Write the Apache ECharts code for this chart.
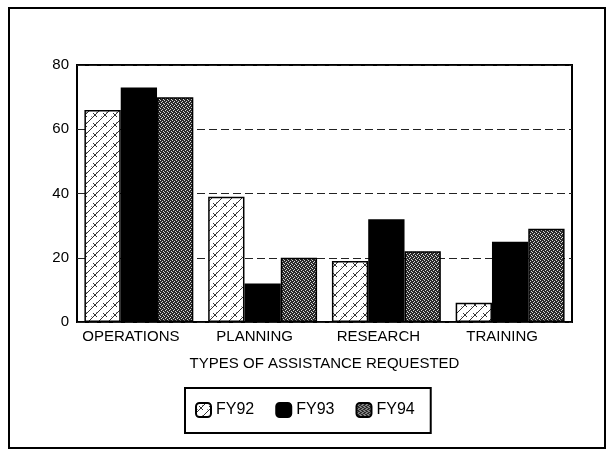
<!DOCTYPE html>
<html>
<head>
<meta charset="utf-8">
<script src="https://cdn.jsdelivr.net/npm/echarts@6/dist/echarts.min.js"></script>
<style>
  html, body { margin: 0; padding: 0; background: #fff; }
  #chart { width: 607px; height: 453px; }
</style>
</head>
<body>
<div id="chart"></div>
<script>
// 数据
var categories = ['OPERATIONS', 'PLANNING', 'RESEARCH', 'TRAINING'];
var fy92 = [66, 39, 19, 6];
var fy93 = [73, 12, 32, 25];
var fy94 = [70, 20, 22, 29];
var yTicks = [0, 20, 40, 60, 80];

// FY92 斜纹图案
function brickPattern() {
  var c = document.createElement('canvas');
  c.width = 10; c.height = 10;
  var g = c.getContext('2d');
  g.fillStyle = '#fff';
  g.fillRect(0, 0, 10, 10);
  g.strokeStyle = '#333';
  g.lineWidth = 1;
  g.beginPath();
  g.moveTo(0, 10); g.lineTo(10, 0);
  g.moveTo(3, 3); g.lineTo(7, 7);
  g.stroke();
  g.fillStyle = '#999';
  g.fillRect(1, 6, 1, 1);
  g.fillRect(6, 2, 1, 1);
  return c;
}

// FY94 网点图案
function dotPattern() {
  var c = document.createElement('canvas');
  c.width = 4; c.height = 4;
  var g = c.getContext('2d');
  g.fillStyle = '#2a2a2a';
  g.fillRect(0, 0, 4, 4);
  g.fillStyle = '#d8d8d8';
  g.fillRect(0, 0, 1, 1);
  g.fillRect(2, 1, 1, 1);
  g.fillRect(1, 2, 1, 1);
  g.fillRect(3, 3, 1, 1);
  return c;
}

var chart = echarts.init(document.getElementById('chart'));
var font = 'Liberation Sans, Arial, sans-serif';

function barSeries(name, data, color) {
  return {
    name: name,
    type: 'bar',
    data: data,
    barGap: '0%',
    barCategoryGap: '12%',
    itemStyle: { color: color, borderColor: '#000', borderWidth: 1.5 }
  };
}

var option = {
  animation: false,
  backgroundColor: '#fff',
  textStyle: { fontFamily: font },
  graphic: [{
    type: 'rect',
    shape: { x: 9, y: 8, width: 596, height: 440 },
    style: { fill: 'none', stroke: '#000', lineWidth: 2 },
    z: -1
  }],
  grid: {
    left: 77, right: 35, top: 65, bottom: 131,
    show: true, borderColor: '#000', borderWidth: 2
  },
  legend: {
    data: ['FY92', 'FY93', 'FY94'],
    left: 185, top: 388,
    padding: [14, 16, 15, 10],
    itemWidth: 15, itemHeight: 14, itemGap: 21,
    borderColor: '#000', borderWidth: 2,
    textStyle: { fontSize: 16, color: '#000', fontFamily: font }
  },
  xAxis: {
    type: 'category',
    data: categories,
    name: 'TYPES OF ASSISTANCE REQUESTED',
    nameLocation: 'middle',
    nameGap: 34,
    nameTextStyle: { fontSize: 15, color: '#000', fontFamily: font },
    axisLine: { show: false },
    axisTick: { show: false },
    axisLabel: { interval: 0, fontSize: 15, color: '#000', margin: 7, padding: [0, 16, 0, 0] }
  },
  yAxis: {
    type: 'value',
    min: yTicks[0], max: yTicks[yTicks.length - 1], interval: 20,
    axisLine: { show: false },
    axisTick: { show: false },
    axisLabel: { fontSize: 15, color: '#000', margin: 8 },
    splitLine: { lineStyle: { color: '#222', width: 1, type: [8, 4] } }
  },
  series: [
    barSeries('FY92', fy92, { image: brickPattern(), repeat: 'repeat' }),
    barSeries('FY93', fy93, '#000'),
    barSeries('FY94', fy94, { image: dotPattern(), repeat: 'repeat' })
  ]
};

chart.setOption(option);
</script>
</body>
</html>
